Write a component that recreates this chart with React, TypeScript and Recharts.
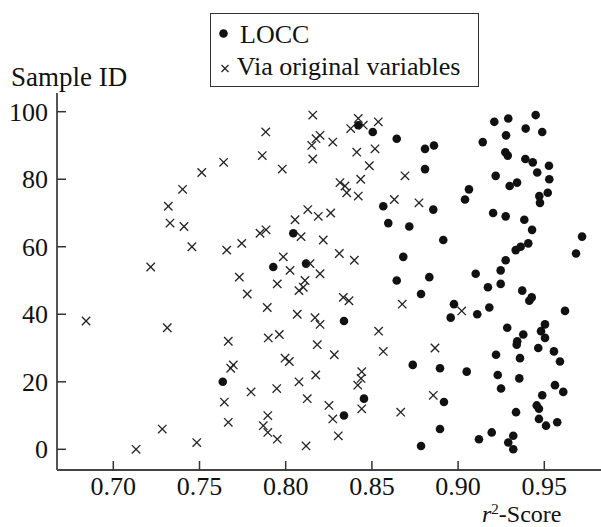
import React from 'react';
import { Scatter, ScatterChart, XAxis, YAxis } from 'recharts';

// r^2 scores, with the sample ID of each point
const loccScore = [
  0.932, 0.8785, 0.9291, 0.9121, 0.932, 0.9195, 0.8895, 0.951, 0.9575, 0.9469,
  0.8338, 0.9336, 0.9469, 0.9456, 0.8918, 0.8454, 0.9488, 0.961, 0.9249, 0.9562,
  0.7635, 0.9355, 0.923, 0.905, 0.8895, 0.8737, 0.9591, 0.9359, 0.922, 0.9556,
  0.9465, 0.934, 0.9343, 0.9504, 0.9378, 0.9481, 0.9285, 0.9504, 0.8338, 0.8957,
  0.9111, 0.962, 0.9181, 0.8976, 0.9413, 0.9427, 0.8785, 0.9372, 0.9173, 0.9247,
  0.8644, 0.8833, 0.9102, 0.9247, 0.7928, 0.8118, 0.9276, 0.8682, 0.9684, 0.9334,
  0.9363, 0.9407, 0.8914, 0.9719, 0.8044, 0.9429, 0.8717, 0.8595, 0.9384, 0.9276,
  0.9203, 0.8856, 0.8566, 0.9475, 0.904, 0.9471, 0.952, 0.9063, 0.9299, 0.9342,
  0.9529, 0.9218, 0.9459, 0.8808, 0.9527, 0.9433, 0.939, 0.9288, 0.9274, 0.8808,
  0.886, 0.9143, 0.8644, 0.9278, 0.8505, 0.9488, 0.9392, 0.8421, 0.921, 0.9291,
  0.945,
];
const loccId = [
  0, 1, 2, 3, 4, 5, 6, 7, 8, 9,
  10, 11, 12, 13, 14, 15, 16, 17, 18, 19,
  20, 21, 22, 23, 24, 25, 26, 27, 28, 29,
  30, 31, 32, 33, 34, 35, 36, 37, 38, 39,
  40, 41, 42, 43, 44, 45, 46, 47, 48, 49,
  50, 51, 52, 53, 54, 55, 56, 57, 58, 59,
  60, 61, 62, 63, 64, 65, 66, 67, 68, 69,
  70, 71, 72, 73, 74, 75, 76, 77, 78, 79,
  80, 81, 82, 83, 84, 85, 86, 87, 88, 89,
  90, 91, 92, 93, 94, 94, 95, 96, 97, 98,
  99,
];

const viaScore = [
  0.7132, 0.8118, 0.7484, 0.7951, 0.8305, 0.7896, 0.7284, 0.787, 0.7667, 0.8273,
  0.7896, 0.8667, 0.8441, 0.8251, 0.7644, 0.8125, 0.8856, 0.7799, 0.7948, 0.8418,
  0.8077, 0.8437, 0.8174, 0.8441, 0.7681, 0.7696, 0.8021, 0.7996, 0.8282, 0.8566,
  0.8866, 0.8183, 0.7667, 0.7899, 0.7963, 0.8539, 0.7313, 0.8199, 0.6842, 0.817,
  0.8067, 0.9021, 0.7893, 0.8676, 0.8367, 0.8334, 0.7777, 0.8077, 0.8102, 0.7951,
  0.8112, 0.7731, 0.8199, 0.8025, 0.7217, 0.8141, 0.8398, 0.7986, 0.8311, 0.7658,
  0.7456, 0.7745, 0.8218, 0.8089, 0.7851, 0.7886, 0.741, 0.7329, 0.8054, 0.8189,
  0.8261, 0.8128, 0.7319, 0.8773, 0.863, 0.8421, 0.8354, 0.7402, 0.8344, 0.8315,
  0.8435, 0.8692, 0.7513, 0.798, 0.8485, 0.764, 0.8157, 0.7864, 0.8412, 0.8518,
  0.8151, 0.8273, 0.8176, 0.8199, 0.7884, 0.8377, 0.845, 0.8537, 0.8421, 0.8157,
];
const viaId = [
  0, 1, 2, 3, 4, 5, 6, 7, 8, 9,
  10, 11, 12, 13, 14, 15, 16, 17, 18, 19,
  20, 21, 22, 23, 24, 25, 26, 27, 28, 29,
  30, 31, 32, 33, 34, 35, 36, 37, 38, 39,
  40, 41, 42, 43, 44, 45, 46, 47, 48, 49,
  50, 51, 52, 53, 54, 55, 56, 57, 58, 59,
  60, 61, 62, 63, 64, 65, 66, 67, 68, 69,
  70, 71, 72, 73, 74, 75, 76, 77, 78, 79,
  80, 81, 82, 83, 84, 85, 86, 87, 88, 89,
  90, 91, 92, 93, 94, 95, 96, 97, 98, 99,
];

const xTicks = [0.7, 0.75, 0.8, 0.85, 0.9, 0.95];
const yTicks = [0, 20, 40, 60, 80, 100];

const FONT = '"Liberation Serif", "Times New Roman", serif';
const INK = '#111';

const loccData = loccScore.map((x, i) => ({ x, y: loccId[i] }));
const viaData = viaScore.map((x, i) => ({ x, y: viaId[i] }));

const Dot = (props: any) => <circle cx={props.cx} cy={props.cy} r={4.3} fill={INK} />;

const Cross = (props: any) => {
  const { cx, cy } = props;
  const h = 4.2;
  return (
    <g stroke="#222" strokeWidth={1.3}>
      <line x1={cx - h} y1={cy - h} x2={cx + h} y2={cy + h} />
      <line x1={cx - h} y1={cy + h} x2={cx + h} y2={cy - h} />
    </g>
  );
};

const YTick = ({ x, y, payload }: any) => (
  <g>
    <line x1={x} x2={x + 9} y1={y} y2={y} stroke="#333" strokeWidth={1.5} />
    <text x={x - 9} y={y + 9} textAnchor="end" fontSize={26} fontFamily={FONT} fill={INK}>
      {payload.value}
    </text>
  </g>
);

const XTick = ({ x, y, payload }: any) => (
  <g>
    <line x1={x} x2={x} y1={y} y2={y - 9} stroke="#333" strokeWidth={1.5} />
    <text x={x} y={y + 24.5} textAnchor="middle" fontSize={26} fontFamily={FONT} fill={INK}>
      {payload.value.toFixed(2)}
    </text>
  </g>
);

const YLabel = () => (
  <text x={11} y={86} fontSize={27} fontFamily={FONT} fill={INK}>
    Sample ID
  </text>
);

// sits on the bottom edge as in the source, kept inside the frame
const XLabel = () => (
  <text x={482} y={521.5} fontSize={24} fontFamily={FONT} fill={INK}>
    <tspan fontStyle="italic">r</tspan>
    <tspan fontSize={15} dy={-8}>2</tspan>
    <tspan dy={8}>-Score</tspan>
  </text>
);

function LegendBox() {
  return (
    <div
      style={{
        position: 'absolute',
        left: 210,
        top: 13,
        width: 269,
        height: 74,
        border: '1px solid #333',
        boxSizing: 'border-box',
        background: '#fff',
      }}
    >
      <svg width={267} height={72} style={{ display: 'block' }}>
        <circle cx={12.5} cy={19.5} r={4.3} fill={INK} />
        <text x={29} y={29} fontSize={26} fontFamily={FONT} fill={INK}>
          LOCC
        </text>
        <g stroke="#222" strokeWidth={1.2}>
          <line x1={10.5} y1={51} x2={17.5} y2={58} />
          <line x1={10.5} y1={58} x2={17.5} y2={51} />
        </g>
        <text x={25.7} y={61} fontSize={26} fontFamily={FONT} fill={INK}>
          Via original variables
        </text>
      </svg>
    </div>
  );
}

export default function App() {
  return (
    <div style={{ position: 'absolute', left: 0, top: 0, width: 601, height: 527, background: '#fff' }}>
      <ScatterChart width={601} height={527} margin={{ top: 93, right: 0, bottom: 0, left: 0 }}>
        <XAxis
          type="number"
          dataKey="x"
          domain={[0.66734, 0.98289]}
          ticks={xTicks}
          interval={0}
          allowDataOverflow
          height={57}
          tickSize={0}
          tickMargin={0}
          tickLine={false}
          axisLine={{ stroke: '#444', strokeWidth: 2 }}
          tick={<XTick />}
          label={<XLabel />}
        />
        <YAxis
          type="number"
          dataKey="y"
          domain={[-6.13, 105.54]}
          ticks={yTicks}
          interval={0}
          allowDataOverflow
          width={57}
          tickSize={0}
          tickMargin={0}
          tickLine={false}
          axisLine={{ stroke: '#555', strokeWidth: 2 }}
          tick={<YTick />}
          label={<YLabel />}
        />
        <Scatter name="LOCC" data={loccData} shape={Dot} isAnimationActive={false} />
        <Scatter name="Via original variables" data={viaData} shape={Cross} isAnimationActive={false} />
      </ScatterChart>
      <LegendBox />
    </div>
  );
}
